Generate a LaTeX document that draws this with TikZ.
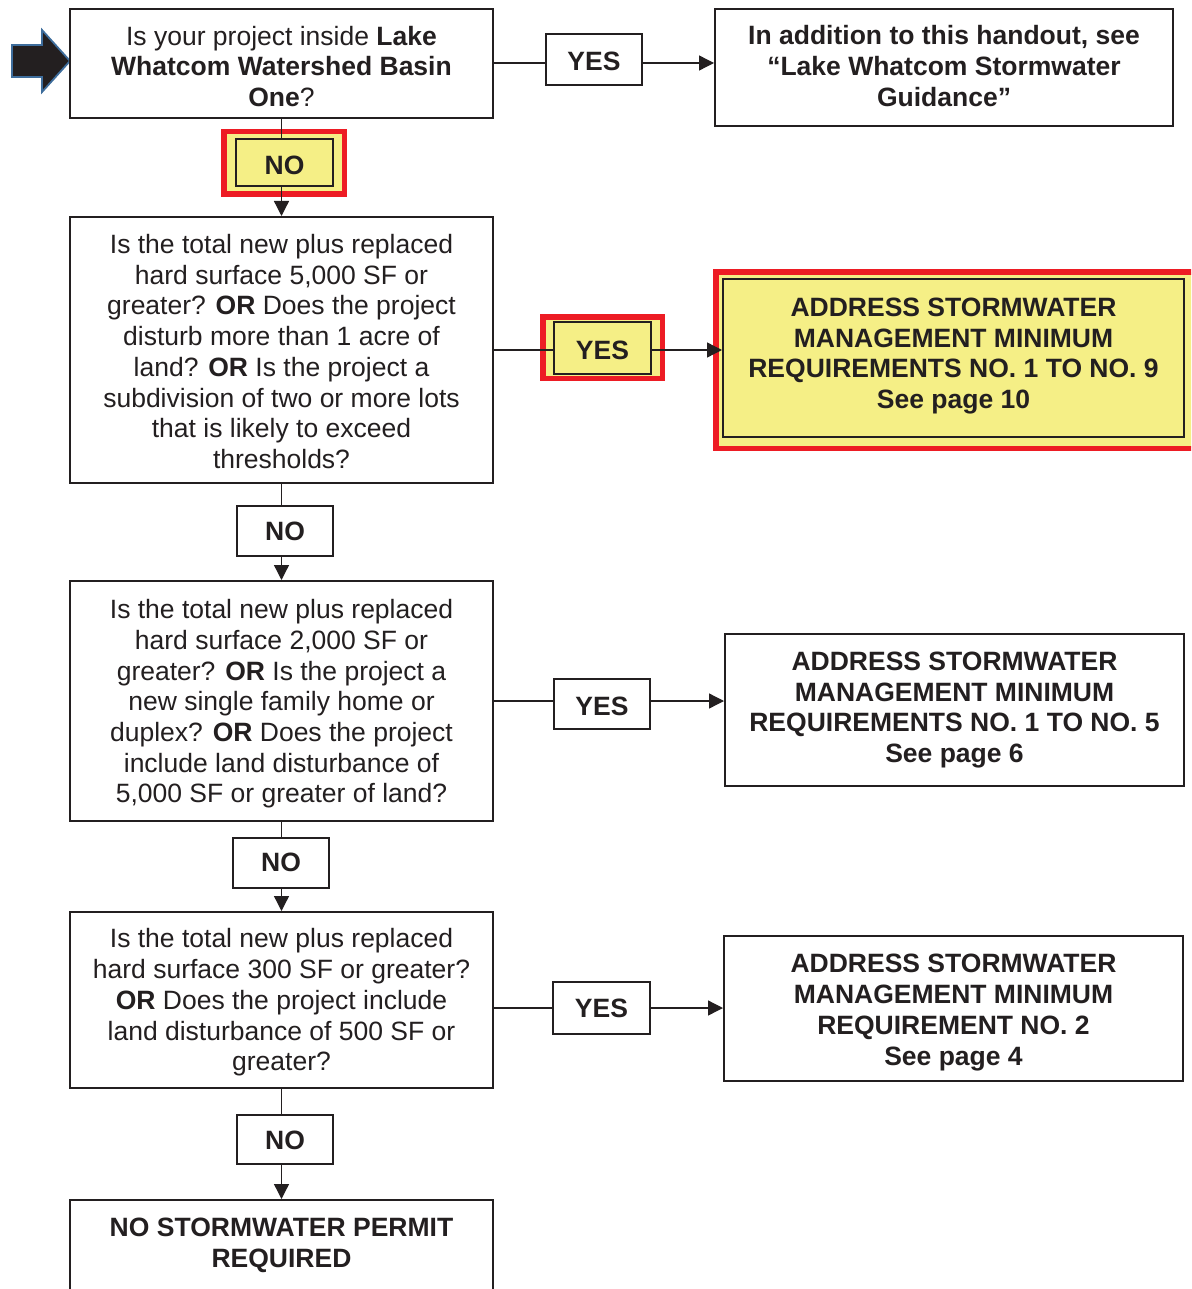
\documentclass[tikz,border=0pt]{standalone}
\usepackage{fontspec}
\setmainfont{Liberation Sans}
\usetikzlibrary{arrows.meta}
\definecolor{ink}{HTML}{231F20}
\definecolor{hiyel}{HTML}{F5EF86}
\definecolor{hired}{HTML}{ED1C24}
\definecolor{arrowblue}{HTML}{3E6D9C}
\begin{document}
\begin{tikzpicture}[x=1pt,y=-1pt,
  box/.style={draw=ink, line width=2pt, fill=white, inner sep=0pt},
  lab/.style={box, minimum width=96pt, minimum height=50pt},
  txt/.style={align=center, text=ink, inner sep=0pt, font=\fontsize{26.5}{30.7}\selectfont},
  txtb/.style={txt, font=\fontsize{26.5}{30.7}\selectfont\bfseries},
  hiframe/.style={draw=hired, line width=5.5pt, fill=hiyel, inner sep=0pt},
  conn/.style={draw=ink, line width=1.3pt},
  arr/.style={conn, -{Triangle[length=15pt,width=15pt]}}]
\useasboundingbox (0,0) rectangle (1191,1289);
\clip (0,0) rectangle (1191,1289);

% start arrow
\fill[ink, draw=arrowblue, line width=1.8pt, line join=miter]
  (12,45) -- (42,45) -- (42,30) -- (70,61) -- (42,92) -- (42,77) -- (12,77) -- cycle;

% question boxes
\node[box, minimum width=423pt, minimum height=109pt,
  label={[txt,yshift=-3pt]center:{Is your project inside \textbf{Lake}\\\textbf{Whatcom Watershed Basin}\\\textbf{One}?}}]
  (q1) at (281.5,63.5) {};
\node[box, minimum width=423pt, minimum height=266pt,
  label={[txt,yshift=-1.5pt]center:{Is the total new plus replaced\\hard surface 5,000 SF or\\greater? \textbf{OR} Does the project\\disturb more than 1 acre of\\land? \textbf{OR} Is the project a\\subdivision of two or more lots\\that is likely to exceed\\thresholds?}}]
  (q2) at (281.5,350) {};
\node[box, minimum width=423pt, minimum height=240pt,
  label={[txt,yshift=-3pt]center:{Is the total new plus replaced\\hard surface 2,000 SF or\\greater? \textbf{OR} Is the project a\\new single family home or\\duplex? \textbf{OR} Does the project\\include land disturbance of\\5,000 SF or greater of land?}}]
  (q3) at (281.5,701) {};
\node[box, minimum width=423pt, minimum height=176pt,
  label={[txt,yshift=-2.5pt]center:{Is the total new plus replaced\\hard surface 300 SF or greater?\\\textbf{OR} Does the project include\\land disturbance of 500 SF or\\greater?}}]
  (q4) at (281.5,1000) {};
\node[box, minimum width=423pt, minimum height=170pt] (q5) at (281.5,1285) {};
\node[txtb] (t5) at (281.5,1245.5) {NO STORMWATER PERMIT\\REQUIRED};

% result boxes
\node[box, minimum width=458pt, minimum height=117pt,
  label={[txtb,yshift=1.5pt]center:{In addition to this handout, see\\“Lake Whatcom Stormwater\\Guidance”}}]
  (r1) at (944,67.5) {};
\node[hiframe, minimum width=490pt, minimum height=176.5pt] (r2f) at (960.75,360) {};
\node[box, fill=hiyel, minimum width=461pt, minimum height=158pt,
  label={[txtb,yshift=2pt]center:{ADDRESS STORMWATER\\MANAGEMENT MINIMUM\\REQUIREMENTS NO. 1 TO NO. 9\\See page 10}}]
  (r2) at (953.5,358) {};
\node[box, minimum width=459pt, minimum height=152pt,
  label={[txtb]center:{ADDRESS STORMWATER\\MANAGEMENT MINIMUM\\REQUIREMENTS NO. 1 TO NO. 5\\See page 6}}]
  (r3) at (954.5,710) {};
\node[box, minimum width=459pt, minimum height=145pt,
  label={[txtb,yshift=-4pt]center:{ADDRESS STORMWATER\\MANAGEMENT MINIMUM\\REQUIREMENT NO. 2\\See page 4}}]
  (r4) at (953.5,1008.5) {};

% YES labels
\node[lab, minimum height=51pt, label={[txtb,yshift=-2pt]center:YES}] (y1) at (594,59.5) {};
\node[hiframe, minimum width=119.5pt, minimum height=61.5pt] (y2f) at (602.5,347.5) {};
\node[lab, fill=hiyel, minimum width=97pt, minimum height=52pt, label={[txtb,yshift=-2pt]center:YES}] (y2) at (602.5,348) {};
\node[lab, label={[txtb,yshift=-2pt]center:YES}] (y3) at (602,704) {};
\node[lab, minimum width=97pt, minimum height=52pt, label={[txtb]center:YES}] (y4) at (601.5,1008) {};

% NO labels
\node[hiframe, minimum width=120.5pt, minimum height=62.5pt] (n1f) at (284,163) {};
\node[lab, fill=hiyel, minimum width=97pt, minimum height=47pt, label={[txtb,yshift=-3pt]center:NO}] (n1) at (284.5,162.5) {};
\node[lab, label={[txtb]center:NO}] (n2) at (285,531) {};
\node[lab, label={[txtb,yshift=1pt]center:NO}] (n3) at (281,863) {};
\node[lab, minimum height=49pt, label={[txtb,yshift=-1pt]center:NO}] (n4) at (285,1139.5) {};

% vertical connectors
\draw[conn] (q1.south) -- (n1.north -| q1.south);
\draw[arr] (n1.south -| q1.south) -- (q2.north);
\draw[conn] (q2.south) -- (n2.north -| q2.south);
\draw[arr] (n2.south -| q2.south) -- (q3.north);
\draw[conn] (q3.south) -- (n3.north -| q3.south);
\draw[arr] (n3.south -| q3.south) -- (q4.north);
\draw[conn] (q4.south) -- (n4.north -| q4.south);
\draw[arr] (n4.south -| q4.south) -- (q5.north);

% horizontal connectors
\draw[conn] (q1.east |- 0,63) -- (y1.west |- 0,63);
\draw[arr] (y1.east |- 0,63) -- (r1.west |- 0,63);
\draw[conn] (q2.east) -- (q2.east -| y2.west);
\draw[arr] (q2.east -| y2.east) -- (q2.east -| r2.west);
\draw[conn] (q3.east) -- (q3.east -| y3.west);
\draw[arr] (q3.east -| y3.east) -- (q3.east -| r3.west);
\draw[conn] (q4.east |- y4) -- (y4.west);
\draw[arr] (y4.east) -- (r4.west |- y4);
\end{tikzpicture}
\end{document}
